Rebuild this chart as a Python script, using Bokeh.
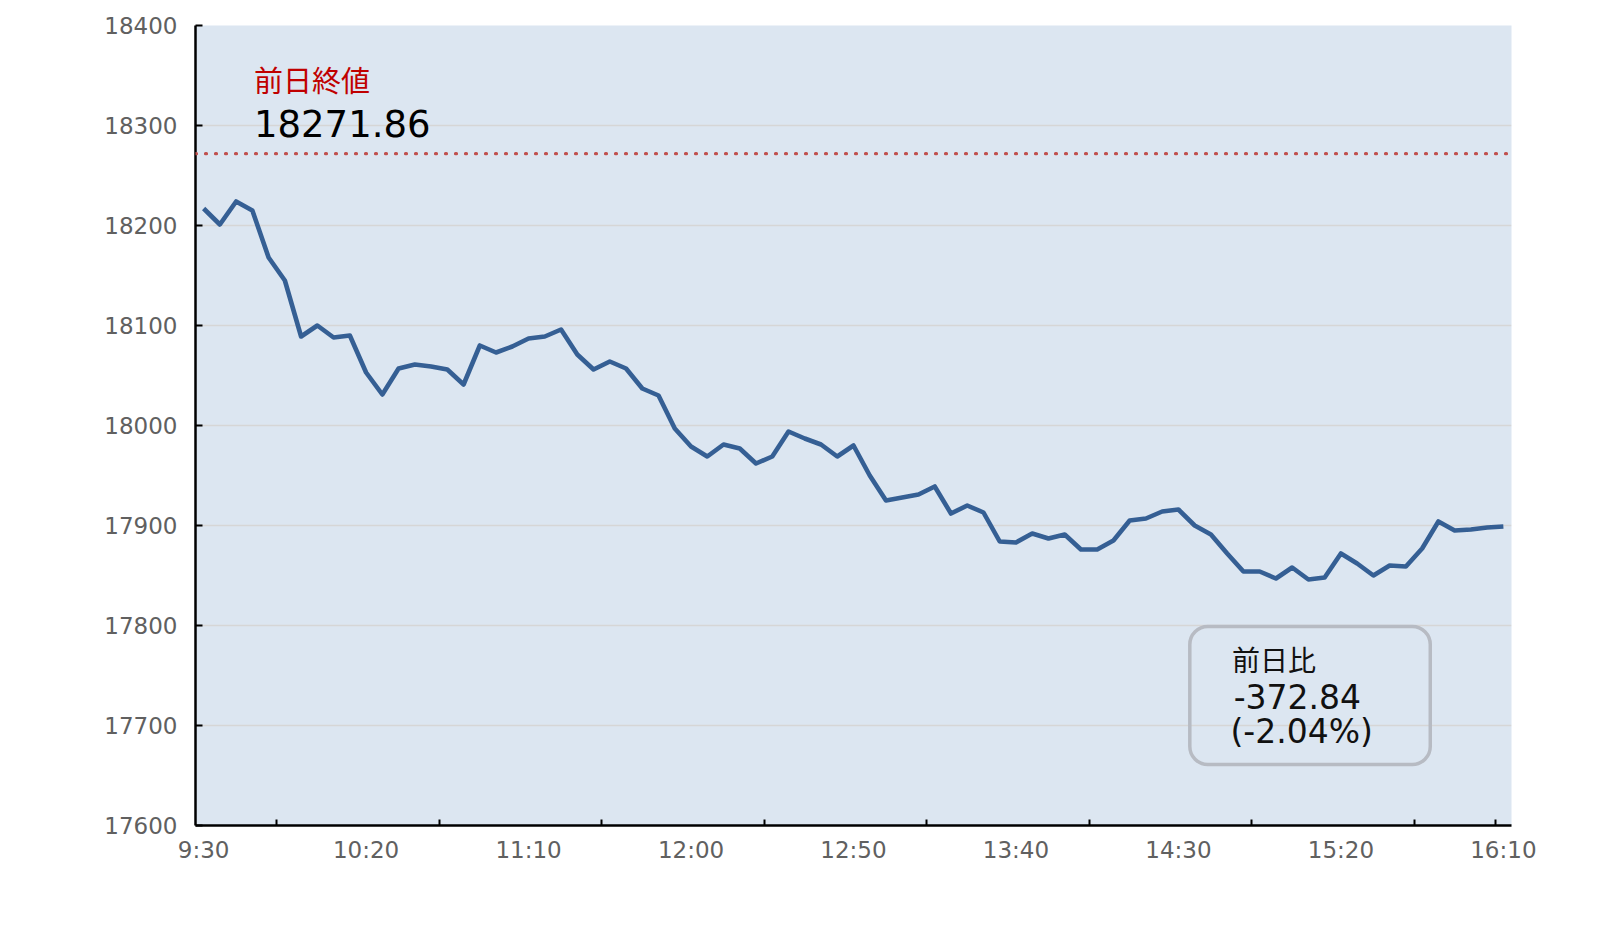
from bokeh.plotting import figure
from bokeh.models import (FixedTicker, Span, Label, BoxAnnotation, Range1d)
from bokeh.embed import file_html
from bokeh.resources import INLINE

# ---- data ----
times = ("9:30 9:35 9:40 9:45 9:50 9:55 "
         "10:00 10:05 10:10 10:15 10:20 10:25 10:30 10:35 10:40 10:45 10:50 10:55 "
         "11:00 11:05 11:10 11:15 11:20 11:25 11:30 11:35 11:40 11:45 11:50 11:55 "
         "12:00 12:05 12:10 12:15 12:20 12:25 12:30 12:35 12:40 12:45 12:50 12:55 "
         "13:00 13:05 13:10 13:15 13:20 13:25 13:30 13:35 13:40 13:45 13:50 13:55 "
         "14:00 14:05 14:10 14:15 14:20 14:25 14:30 14:35 14:40 14:45 14:50 14:55 "
         "15:00 15:05 15:10 15:15 15:20 15:25 15:30 15:35 15:40 15:45 15:50 15:55 "
         "16:00 16:05 16:10").split()
values = [18217, 18201, 18224, 18215, 18168, 18145, 18089, 18100, 18088, 18090,
          18053, 18031, 18057, 18061, 18059, 18056, 18041, 18080, 18073, 18079,
          18087, 18089, 18096, 18071, 18056, 18064, 18057, 18037, 18030, 17997,
          17979, 17969, 17981, 17977, 17962, 17969, 17994, 17987, 17981, 17969,
          17980, 17950, 17925, 17928, 17931, 17939, 17912, 17920, 17913, 17884,
          17883, 17892, 17887, 17891, 17876, 17876, 17885, 17905, 17907, 17914,
          17916, 17900, 17891, 17872, 17854, 17854, 17847, 17858, 17846, 17848,
          17872, 17862, 17850, 17860, 17859, 17877, 17904, 17895, 17896, 17898,
          17899.02]
prev_close = 18271.86
change = -372.84
change_pct = -2.04
x_tick_labels = ["9:30", "10:20", "11:10", "12:00", "12:50", "13:40", "14:30", "15:20", "16:10"]
y_ticks = [17600, 17700, 17800, 17900, 18000, 18100, 18200, 18300, 18400]


def to_min(t):
    h, m = t.split(":")
    return (int(h) - 9) * 60 + int(m) - 30


xs = [to_min(t) for t in times]
label_pos = [to_min(t) for t in x_tick_labels]
step = xs[1] - xs[0]
# tick marks between categories (as in the reference)
tick_marks = [label_pos[k] + 4.5 * step for k in range(len(label_pos) - 1)] + [xs[-1] - 0.5 * step]

p = figure(frame_width=1316, frame_height=800,
           output_backend="svg", toolbar_location=None,
           x_range=Range1d(xs[0] - step / 2, xs[-1] + step / 2),
           y_range=Range1d(17600, 18400),
           min_border_left=195, min_border_top=25, min_border_right=80, min_border_bottom=90,
           background_fill_color="#dce6f1", border_fill_color="white")
p.outline_line_color = None

# axes
p.xaxis.ticker = FixedTicker(ticks=label_pos, minor_ticks=tick_marks)
p.xaxis.major_label_overrides = {pos: lab for pos, lab in zip(label_pos, x_tick_labels)}
p.yaxis.ticker = FixedTicker(ticks=y_ticks)

for ax in (p.xaxis[0], p.yaxis[0]):
    ax.axis_line_color = "black"
    ax.axis_line_width = 2.5
    ax.major_label_text_font = "DejaVu Sans"
    ax.major_label_text_font_size = "23px"
    ax.major_label_text_color = "#606060"

p.xaxis.major_tick_line_color = None
p.xaxis.minor_tick_in = 6
p.xaxis.minor_tick_out = 0
p.xaxis.minor_tick_line_color = "black"
p.xaxis.minor_tick_line_width = 2
p.xaxis.major_label_standoff = 5

p.yaxis.major_tick_in = 7
p.yaxis.major_tick_out = 0
p.yaxis.major_tick_line_color = "black"
p.yaxis.major_tick_line_width = 2
p.yaxis.minor_tick_line_color = None
p.yaxis.major_label_standoff = 18

p.xgrid.grid_line_color = None
p.ygrid.grid_line_color = "#d6d6d6"
p.ygrid.grid_line_width = 1.5

# previous close line
p.add_layout(Span(location=prev_close, dimension="width", line_color="#c0504d",
                  line_width=3.2, line_dash="1 9", line_cap="round"))

# price line
p.line(xs, values, line_color="#355f94", line_width=4.6, line_join="round")

# annotations
p.add_layout(Label(x=15.5, y=18347, text="前日終値", text_font="Noto Sans CJK JP",
                   text_font_size="29px", text_color="#c00000", text_baseline="middle"))
p.add_layout(Label(x=15.5, y=18302, text=f"{prev_close:.2f}", text_font="DejaVu Sans",
                   text_font_size="37px", text_color="black", text_baseline="middle"))

p.add_layout(BoxAnnotation(left=303.5, right=377.5, top=17799, bottom=17661,
                           fill_color=None, fill_alpha=0, line_color="#b7bbc3", line_alpha=1.0,
                           line_width=3.5, border_radius=18))
p.add_layout(Label(x=316.5, y=17767, text="前日比", text_font="Noto Sans CJK JP",
                   text_font_size="28px", text_color="#111111", text_baseline="middle"))
p.add_layout(Label(x=317.0, y=17729, text=f"{change:.2f}", text_font="DejaVu Sans",
                   text_font_size="33px", text_color="#111111", text_baseline="middle"))
p.add_layout(Label(x=316.0, y=17694, text=f"({change_pct:.2f}%)", text_font="DejaVu Sans",
                   text_font_size="33px", text_color="#111111", text_baseline="middle"))

open("out.html", "w").write(file_html(p, INLINE))
